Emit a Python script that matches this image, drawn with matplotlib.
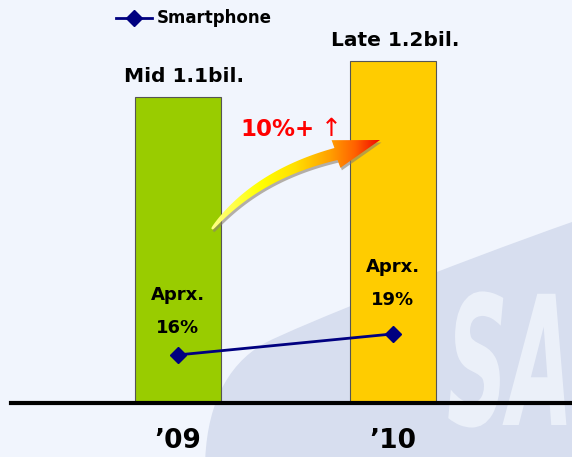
import matplotlib.pyplot as plt
import numpy as np
from matplotlib.patches import Polygon, PathPatch
from matplotlib.path import Path
from matplotlib.colors import LinearSegmentedColormap
from matplotlib.transforms import IdentityTransform, Affine2D
from matplotlib.textpath import TextPath
from matplotlib.font_manager import FontProperties

# data
years = ["\u201909", "\u201910"]
market_bil = [1.1, 1.2]
market_labels = ["Mid 1.1bil.", "Late 1.2bil."]
smartphone_pct = [16, 19]
pct_labels = ["Aprx.\n16%", "Aprx.\n19%"]
bar_colors = ["#99CC00", "#FFCC00"]

W, H = 572, 457
fig = plt.figure(figsize=(W / 100, H / 100), dpi=100)
bg = "#F1F5FD"
fig.patch.set_facecolor(bg)

# faint logo watermark behind the chart (drawn in image pixels)
to_px = Affine2D().scale(1, -1).translate(0, H) + IdentityTransform()
wm_path = Path([(205, 470), (205, 410), (225, 365), (265, 343),
                (300, 325), (450, 265), (572, 222),
                (580, 222), (580, 470), (205, 470)],
               [Path.MOVETO, Path.CURVE4, Path.CURVE4, Path.CURVE4,
                Path.CURVE4, Path.CURVE4, Path.CURVE4,
                Path.LINETO, Path.LINETO, Path.CLOSEPOLY])
wm = PathPatch(wm_path, facecolor="#D7DEEF", edgecolor="none", zorder=-2,
               transform=to_px)
fig.patches.append(wm)
tp = TextPath((0, 0), "SA", size=180,
              prop=FontProperties(family="DejaVu Sans", weight="bold", style="italic"))
letters = PathPatch(tp, facecolor="#EBF0F9", edgecolor="none", zorder=-1,
                    transform=Affine2D().scale(0.47, 1).translate(447, H - 425) + IdentityTransform())
letters.set_clip_path(wm)
fig.patches.append(letters)

ax = fig.add_axes([0, (H - 403) / H, 1, 403 / H])
ax.set_facecolor("none")
x = np.arange(len(years))
ax.bar(x, market_bil, width=0.4, color=bar_colors, edgecolor="#555555",
       linewidth=0.8, zorder=2)
ax.set_xlim(-0.826, 1.835)
ax.set_ylim(0.25, 1.369)
for s in ax.spines.values():
    s.set_visible(False)
ax.spines["bottom"].set_visible(True)
ax.spines["bottom"].set_linewidth(3)
ax.spines["bottom"].set_bounds(-0.826 + 11 / 215, 1.835)
ax.spines["bottom"].set_zorder(3)
ax.set_yticks([])
ax.set_xticks([])

for xi, v, lab, dx in zip(x, market_bil, market_labels, [5, 2]):
    ax.annotate(lab, (xi, v), xytext=(dx, 15), textcoords="offset points",
                ha="center", va="center", fontsize=14.5, fontweight="bold")

for xi, lab in zip(x, years):
    ax.annotate(lab, (xi, 0.25), xytext=(0, -27), textcoords="offset points",
                ha="center", va="center", fontsize=19, fontweight="bold",
                annotation_clip=False)

# smartphone share on its own scale
ax2 = ax.twinx()
ax2.set_ylim(9.14, 66.7)
ax2.axis("off")
line, = ax2.plot(x, smartphone_pct, color="#000080", lw=2, marker="D",
                 markersize=8, zorder=4, label="Smartphone")
for xi, v, lab, off in zip(x, smartphone_pct, pct_labels, [31.5, 36.4]):
    ax2.annotate(lab, (xi, v), xytext=(0, off), textcoords="offset points",
                 ha="center", va="center", fontsize=13, fontweight="bold",
                 linespacing=2.05)

fig.legend(handles=[line], loc="upper left", bbox_to_anchor=(109 / W, 0.994),
           frameon=False, handlelength=2.16, handletextpad=0.3,
           borderaxespad=0, prop={"weight": "bold", "size": 12})

# gradient curved arrow (overlay axes in image pixels)
ax3 = fig.add_axes([0, 0, 1, 1])
ax3.axis("off")
p0, p1, p2 = np.array([212, 229]), np.array([256, 174.5]), np.array([336, 154])
tip = np.array([380, 140])
t = np.linspace(0, 1, 60)[:, None]
pts = (1 - t) ** 2 * p0 + 2 * (1 - t) * t * p1 + t ** 2 * p2
tan = 2 * (1 - t) * (p1 - p0) + 2 * t * (p2 - p1)
tan = tan / np.linalg.norm(tan, axis=1, keepdims=True)
nrm = np.column_stack([tan[:, 1], -tan[:, 0]])
hw = 1.0 + 5.2 * t ** 0.6
left = pts + hw * nrm
right = pts - hw * nrm
hn = np.array([-(tip - p2)[1], (tip - p2)[0]]) / np.linalg.norm(tip - p2)
head = [p2 - 14.5 * hn, tip, p2 + 14.5 * hn]
outline = np.vstack([left, head, right[::-1]])

shadow = Polygon(outline + [1.5, 2.5], closed=True, facecolor="#8a8070",
                 edgecolor="none", alpha=0.6, zorder=5)
ax3.add_patch(shadow)
arrow = Polygon(outline, closed=True, facecolor="none", edgecolor="none", zorder=6)
ax3.add_patch(arrow)
cmap = LinearSegmentedColormap.from_list(
    "yr", [(0, "#FFFF90"), (0.3, "#FFFF00"), (0.5, "#FFE000"),
           (0.7, "#FFA000"), (0.85, "#FF6000"), (1, "#F00000")])
grad = np.linspace(0, 1, 256).reshape(1, -1)
im = ax3.imshow(grad, cmap=cmap, extent=(208, 382, 235, 135), aspect="auto", zorder=6)
im.set_clip_path(arrow)
ax3.set_xlim(0, W)
ax3.set_ylim(H, 0)

ax3.text(240, 130, "10%+", color="#FF0000", fontsize=16.5, fontweight="bold",
         va="center", ha="left")
ax3.text(321, 129, "\u2191", color="#FF0000", fontsize=18, va="center", ha="left")

fig.savefig("out.png", dpi=100, facecolor=bg)
